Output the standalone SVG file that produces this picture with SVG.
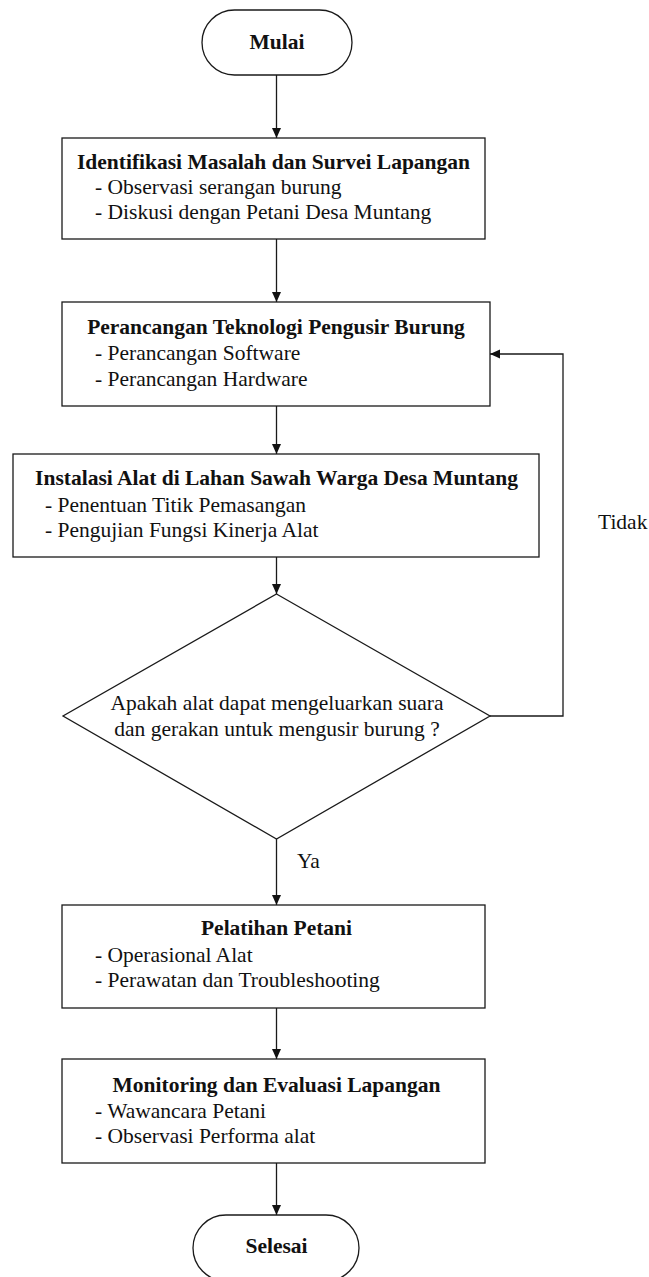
<svg xmlns="http://www.w3.org/2000/svg" width="649" height="1277" viewBox="0 0 649 1277" font-family="Liberation Serif, DejaVu Serif, serif">
  <style>
    .shape { fill: #ffffff; stroke: #1a1a1a; stroke-width: 1.3; }
    .link { fill: none; stroke: #1a1a1a; stroke-width: 1.3; }
    text { font-size: 21.5px; fill: #111111; }
    .title { font-weight: bold; text-anchor: middle; }
    .mid { text-anchor: middle; }
  </style>
  <defs>
    <marker id="arrow" markerUnits="userSpaceOnUse" markerWidth="10" markerHeight="10" refX="10" refY="4.5" orient="auto">
      <path d="M0,0 L10,4.5 L0,9 z" fill="#111111"/>
    </marker>
  </defs>

  <rect width="649" height="1277" fill="#ffffff"/>

  <!-- connectors -->
  <g id="connectors">
    <line class="link" x1="276.5" y1="75" x2="276.5" y2="138" marker-end="url(#arrow)"/>
    <line class="link" x1="276.5" y1="239" x2="276.5" y2="302" marker-end="url(#arrow)"/>
    <line class="link" x1="276.5" y1="406" x2="276.5" y2="454" marker-end="url(#arrow)"/>
    <line class="link" x1="276.5" y1="557" x2="276.5" y2="594" marker-end="url(#arrow)"/>
    <line class="link" x1="276.5" y1="839" x2="276.5" y2="905" marker-end="url(#arrow)"/>
    <line class="link" x1="276.5" y1="1008" x2="276.5" y2="1059" marker-end="url(#arrow)"/>
    <line class="link" x1="276.5" y1="1163" x2="276.5" y2="1215" marker-end="url(#arrow)"/>
    <polyline class="link" points="490,716 563,716 563,354 490,354" marker-end="url(#arrow)"/>
    <text x="297" y="868" font-family="Liberation Serif">Ya</text>
    <text x="598" y="529" font-family="Liberation Serif">Tidak</text>
  </g>

  <!-- start -->
  <g id="mulai">
    <rect class="shape" x="202" y="10" width="150" height="65" rx="32.5" ry="32.5"/>
    <text class="title" x="277" y="49">Mulai</text>
  </g>

  <!-- step 1 -->
  <g id="identifikasi">
    <rect class="shape" x="62" y="138" width="423" height="101"/>
    <text class="title" x="273.5" y="169">Identifikasi Masalah dan Survei Lapangan</text>
    <text x="95" y="194">- Observasi serangan burung</text>
    <text x="95" y="219">- Diskusi dengan Petani Desa Muntang</text>
  </g>

  <!-- step 2 -->
  <g id="perancangan">
    <rect class="shape" x="62" y="302" width="428" height="104"/>
    <text class="title" x="276" y="334">Perancangan Teknologi Pengusir Burung</text>
    <text x="95" y="360">- Perancangan Software</text>
    <text x="95" y="386">- Perancangan Hardware</text>
  </g>

  <!-- step 3 -->
  <g id="instalasi">
    <rect class="shape" x="13" y="454" width="526" height="103"/>
    <text class="title" x="276.5" y="485">Instalasi Alat di Lahan Sawah Warga Desa Muntang</text>
    <text x="45" y="512">- Penentuan Titik Pemasangan</text>
    <text x="45" y="537">- Pengujian Fungsi Kinerja Alat</text>
  </g>

  <!-- decision -->
  <g id="keputusan">
    <polygon class="shape" points="276.5,594 490,716 276.5,839 63,716"/>
    <text class="mid" x="277" y="710">Apakah alat dapat mengeluarkan suara</text>
    <text class="mid" x="277" y="736">dan gerakan untuk mengusir burung ?</text>
  </g>

  <!-- step 4 -->
  <g id="pelatihan">
    <rect class="shape" x="62" y="905" width="423" height="103"/>
    <text class="title" x="276.5" y="935">Pelatihan Petani</text>
    <text x="95" y="962">- Operasional Alat</text>
    <text x="95" y="987">- Perawatan dan Troubleshooting</text>
  </g>

  <!-- step 5 -->
  <g id="monitoring">
    <rect class="shape" x="62" y="1059" width="423" height="104"/>
    <text class="title" x="276.5" y="1092">Monitoring dan Evaluasi Lapangan</text>
    <text x="95" y="1118">- Wawancara Petani</text>
    <text x="95" y="1143">- Observasi Performa alat</text>
  </g>

  <!-- end -->
  <g id="selesai">
    <rect class="shape" x="193" y="1215" width="166" height="66" rx="33" ry="33"/>
    <text class="title" x="276.5" y="1253">Selesai</text>
  </g>
</svg>
